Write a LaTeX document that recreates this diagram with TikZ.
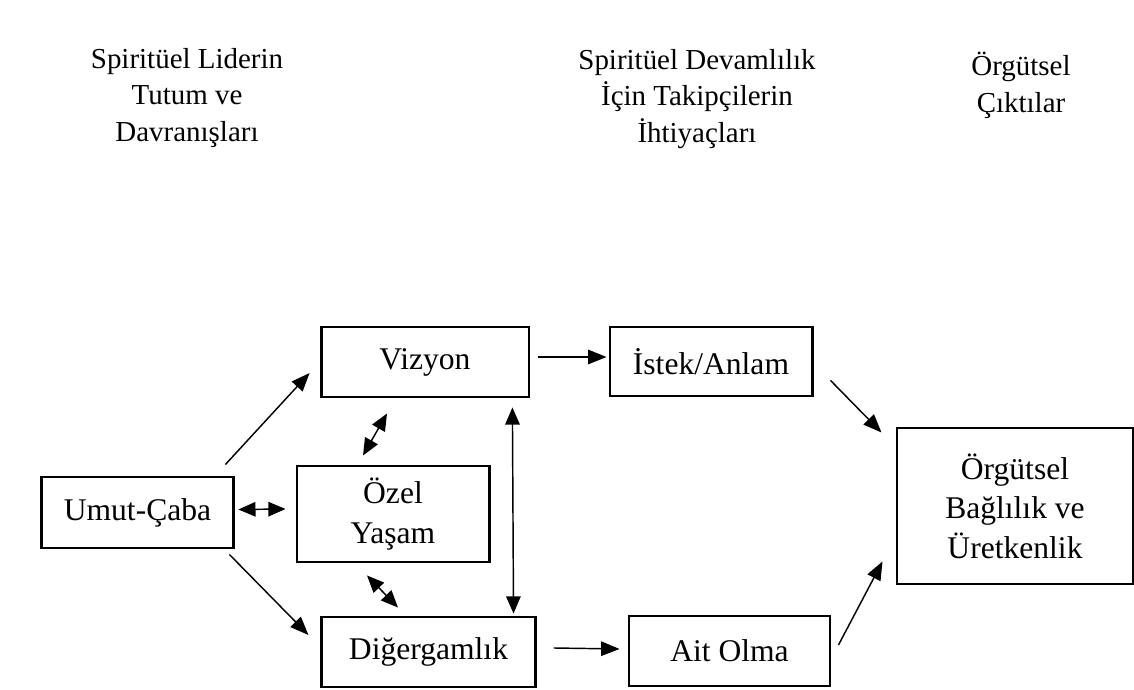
\documentclass[tikz,border=0pt]{standalone}
\usepackage{fontspec}
\setmainfont{Liberation Serif}
\usepackage{tikz}
\usetikzlibrary{arrows.meta, calc}
\usepackage{xcolor}
\tikzstyle{box} = [rectangle, draw=black, line width=1.1pt, inner sep=0pt, text centered, align=center, font=\fontsize{12}{15}\selectfont]
\tikzstyle{head} = [align=center, font=\fontsize{11}{14}\selectfont]
\tikzstyle{arrow} = [line width=0.55pt, -{Triangle[length=7pt,width=5.5pt]}]
\tikzstyle{dblarrow} = [line width=0.55pt, {Triangle[length=6.5pt,width=5.5pt]}-{Triangle[length=6.5pt,width=5.5pt]}]

\begin{document}
\begin{tikzpicture}[x=0.38pt, y=-0.38pt]
    \useasboundingbox (0,0) rectangle (1134,690);

    % column titles
    \node (lider) [head] at (187,98) {Spiritüel Liderin\\Tutum ve\\Davranışları};
    \node (takip) [head] at (697,99) {Spiritüel Devamlılık\\İçin Takipçilerin\\İhtiyaçları};
    \node (cikti) [head] at (1021,85) {Örgütsel\\Çıktılar};

    \node (umut) [box, minimum width=73.3pt, minimum height=27pt] at (137.5,512.5) {Umut-Çaba};
    \node (vizyon) [box, minimum width=79pt, minimum height=26.6pt] at (425,362) {Vizyon};
    \node (ozel) [box, minimum width=73pt, minimum height=36.5pt] at (393,514) {Özel\\Yaşam};
    \node (diger) [box, minimum width=81pt, minimum height=26.6pt] at (428.5,652) {Diğergamlık};
    \node (istek) [box, minimum width=76.8pt, minimum height=26.2pt] at (711,361.5) {İstek/Anlam};
    \node (ait) [box, minimum width=76.4pt, minimum height=26.6pt] at (729.5,651) {Ait Olma};
    \node (orgut) [box, minimum width=89.7pt, minimum height=59.3pt] at (1015,506) {Örgütsel\\Bağlılık ve\\Üretkenlik};

    \draw [arrow] ($(umut.north east)+(-10,-11)$) -- ($(vizyon.west)+(-10,11)$);
    \draw [arrow] ($(umut.south east)+(-6,5)$) -- ($(diger.west)+(-12,-17)$);
    \draw [dblarrow] ($(umut.east)+(3,-3)$) -- ($(ozel.west)+(-10,-5)$);
    \draw [dblarrow] ($(vizyon.south)+(-38,15)$) -- ($(ozel.north)+(-30,-9)$);
    \draw [dblarrow] ($(ozel.south)+(-26,12)$) -- ($(diger.north)+(-30.5,-8)$);
    \draw [dblarrow] ($(vizyon.south east)+(-18,9)$) -- ($(diger.north east)+(-23,-2)$);
    \draw [arrow] ($(vizyon.east)+(8,-5)$) -- ($(istek.west)+(-2,-4.5)$);
    \draw [arrow] ($(diger.east)+(17,-4)$) -- ($(ait.west)+(-8,-2)$);
    \draw [arrow] ($(istek.south east)+(17,-17)$) -- ($(orgut.north west)+(-14,6)$);
    \draw [arrow] ($(ait.east)+(7,-6)$) -- ($(orgut.south west)+(-13,-24)$);
\end{tikzpicture}
\end{document}
